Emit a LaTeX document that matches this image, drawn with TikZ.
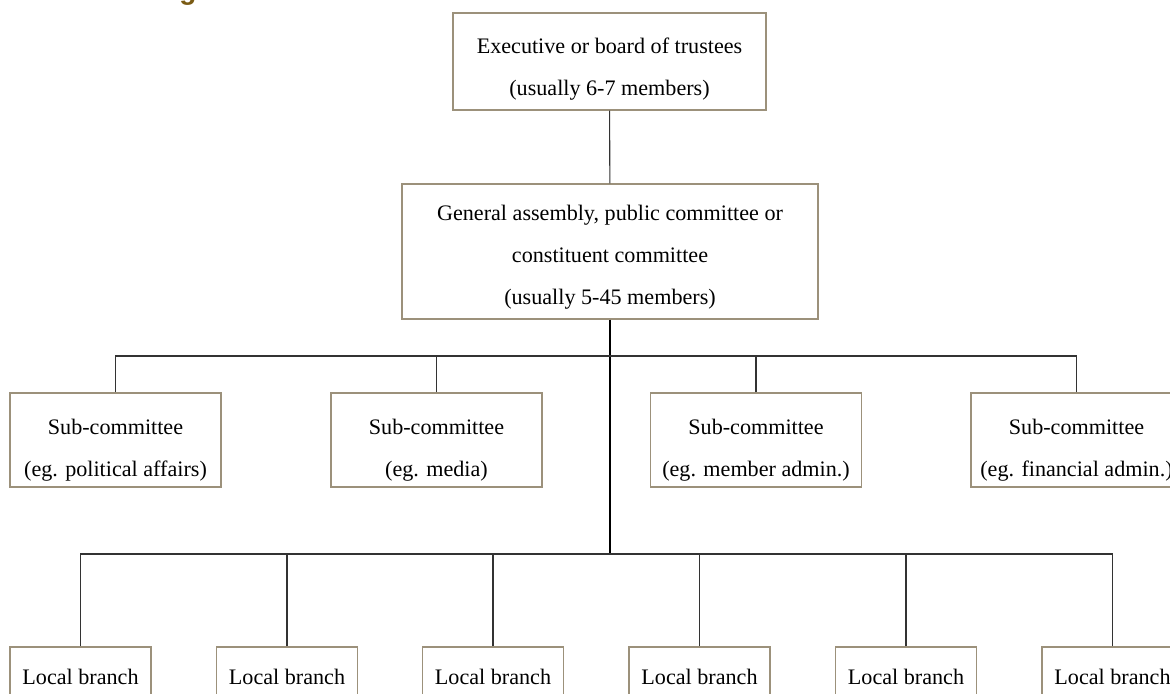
\documentclass[tikz,border=0pt]{standalone}
\usepackage{fontspec}
\setmainfont{Liberation Serif}
\newfontfamily\headfont{Liberation Sans}
\usepackage{xcolor}
\usetikzlibrary{positioning}
\definecolor{boxbrown}{HTML}{9C917B}
\definecolor{wiregray}{HTML}{333333}
\definecolor{titlebrown}{HTML}{7A5B14}

\begin{document}
\begin{tikzpicture}[
  x=0.75pt, y=-0.75pt,
  unit/.style={rectangle, draw=boxbrown, line width=0.9pt, align=center, inner sep=0pt,
    font=\fontsize{16.6}{31.5}\selectfont},
  subunit/.style={unit, text height=58pt, minimum width=158.25pt, minimum height=70.5pt},
  branch/.style={unit, minimum width=105.75pt, minimum height=45pt},
  wire/.style={draw=wiregray, line width=0.8pt},
  trunk/.style={draw=black, line width=1.4pt}
]
  \useasboundingbox (0,0) rectangle (1170,693);
  \node[anchor=base, font=\headfont\bfseries\fontsize{21}{21}\selectfont, text=titlebrown] (title) at (188,-1) {g};
  \node[unit, text height=54pt, minimum width=234.75pt, minimum height=72.75pt] (board) at (609.5,61.5) {Executive or board of trustees\\(usually 6-7 members)};
  \node[unit, text height=83.5pt, minimum width=312pt, minimum height=101.25pt] (assembly) at (610,251.5) {General assembly, public committee or\\constituent committee\\(usually 5-45 members)};
  \node[subunit] (sub1) at (115.5,440) {Sub-committee\\(eg. political affairs)};
  \node[subunit] (sub2) at (436.5,440) {Sub-committee\\(eg. media)};
  \node[subunit] (sub3) at (756,440) {Sub-committee\\(eg. member admin.)};
  \node[subunit] (sub4) at (1076.5,440) {Sub-committee\\(eg. financial admin.)};
  \foreach \x [count=\i] in {80.5,287,493,699.5,906,1112.5}
    \node[branch] (local\i) at (\x,677) {Local branch};
  \coordinate (subbus) at (610,356);
  \coordinate (localbus) at (610,554);
  % links
  \draw[wire] (board) -- (assembly);
  \draw[trunk] (assembly) -- (localbus);
  \foreach \i in {1,...,4}
    \draw[wire] (sub\i.north) |- (subbus);
  \foreach \i in {1,...,6}
    \draw[wire] (local\i.north) |- (localbus);
\end{tikzpicture}
\end{document}
